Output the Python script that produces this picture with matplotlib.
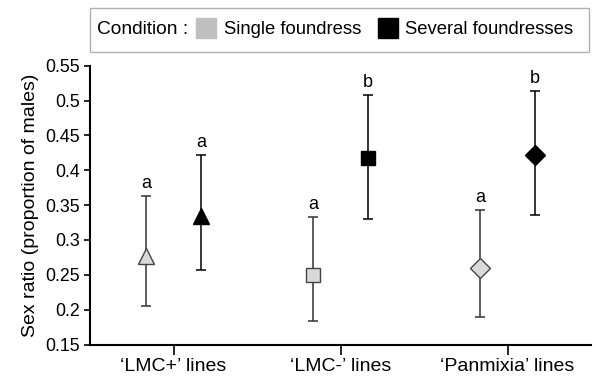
import matplotlib.pyplot as plt
import numpy as np
from matplotlib.patches import Rectangle
from matplotlib.lines import Line2D

plt.rcParams['font.family'] = ['Liberation Sans', 'DejaVu Sans']

# data
groups = ["\u2018LMC+\u2019 lines", "\u2018LMC-\u2019 lines", "\u2018Panmixia\u2019 lines"]
markers = ['^', 's', 'D']

single_mean = [0.277, 0.250, 0.260]
single_low = [0.205, 0.183, 0.189]
single_high = [0.363, 0.333, 0.343]
single_letters = ['a', 'a', 'a']

several_mean = [0.334, 0.417, 0.422]
several_low = [0.257, 0.330, 0.336]
several_high = [0.422, 0.508, 0.514]
several_letters = ['a', 'b', 'b']

fig = plt.figure(figsize=(5.95, 3.77), dpi=100)
ax = fig.add_axes([90 / 595, 1 - 344.5 / 377, 501 / 595, (344.5 - 65.7) / 377])

x = np.arange(len(groups)) + 0.5
off = 0.165
msizes = [12, 10.5, 10]

for i in range(len(groups)):
    # single foundress
    m = single_mean[i]
    ax.errorbar(x[i] - off, m, yerr=[[m - single_low[i]], [single_high[i] - m]],
                fmt='none', ecolor='#333333', elinewidth=1.1, capsize=3.5, capthick=1.1, zorder=2)
    ax.plot(x[i] - off, m, marker=markers[i], ms=msizes[i], mfc='#d9d9d9', mec='#444444',
            mew=1.0, ls='none', zorder=3)
    ax.text(x[i] - off, single_high[i] + 0.006, single_letters[i], ha='center', va='bottom', fontsize=13)
    # several foundresses
    m = several_mean[i]
    ax.errorbar(x[i] + off, m, yerr=[[m - several_low[i]], [several_high[i] - m]],
                fmt='none', ecolor='black', elinewidth=1.1, capsize=3.5, capthick=1.1, zorder=2)
    ax.plot(x[i] + off, m, marker=markers[i], ms=msizes[i], mfc='black', mec='black',
            mew=1.0, ls='none', zorder=3)
    ax.text(x[i] + off, several_high[i] + 0.006, several_letters[i], ha='center', va='bottom', fontsize=13)

ax.set_xlim(0, 3)
ax.set_ylim(0.15, 0.55)
ax.set_yticks(np.arange(0.15, 0.551, 0.05))
ax.set_yticklabels(['0.15', '0.2', '0.25', '0.3', '0.35', '0.4', '0.45', '0.5', '0.55'])
ax.set_xticks(x)
ax.set_xticklabels(groups)
ax.tick_params(axis='y', labelsize=12.8, length=4, width=1.2, pad=3)
ax.tick_params(axis='x', labelsize=14, length=7, width=1.2, pad=3)
for s in ['top', 'right']:
    ax.spines[s].set_visible(False)
for s in ['left', 'bottom']:
    ax.spines[s].set_linewidth(1.5)
ax.set_ylabel('Sex ratio (proportion of males)', fontsize=14, labelpad=5)

# legend box
fig.patches.append(Rectangle((90 / 595, 1 - 52 / 377), 499 / 595, 44 / 377,
                             transform=fig.transFigure, fill=False, ec='#b0b0b0', lw=1.0))
fig.text(97 / 595, 1 - 30 / 377, 'Condition :', ha='left', va='center', fontsize=13.8)
handles = [Line2D([], [], marker='s', ms=14, mfc='#bfbfbf', mec='#bfbfbf', ls='none'),
           Line2D([], [], marker='s', ms=14, mfc='black', mec='black', ls='none')]
leg = fig.legend(handles, ['Single foundress', 'Several foundresses'], ncol=2,
                 loc='center left', bbox_to_anchor=(197 / 595, 1 - 30 / 377),
                 frameon=False, fontsize=13.3, handlelength=1.0, handletextpad=0.45,
                 columnspacing=0.95, borderpad=0, borderaxespad=0)

fig.savefig('out.png', dpi=100)
